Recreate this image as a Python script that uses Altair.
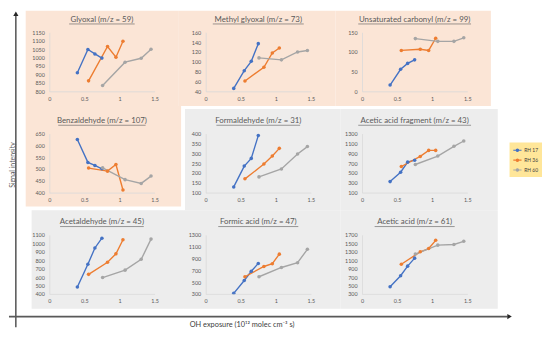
import altair as alt
import pandas as pd

# ---------------- data ----------------
RH_LABELS = ["RH 17", "RH 36", "RH 60"]
RH_COLORS = ["#4472C4", "#ED7D31", "#A5A5A5"]

# OH exposure (10^12 molec cm-3 s) for each RH series
X_RH17 = [0.40, 0.55, 0.65, 0.75]
X_RH36 = [0.56, 0.83, 0.95, 1.05]
X_RH60 = [0.76, 1.08, 1.31, 1.45]

glyoxal = [[910, 1048, 1022, 997], [862, 1066, 1002, 1097], [835, 973, 996, 1049]]
methyl_glyoxal = [[46, 82, 101, 137], [61, 89, 118, 128], [108, 104, 120, 123]]
unsat_carbonyl = [[16, 56, 71, 80], [104, 107, 104, 135], [134, 127, 127, 136]]
benzaldehyde = [[625, 528, 515, 501], [504, 491, 519, 411], [505, 455, 439, 470]]
formaldehyde = [[129, 235, 274, 390], [170, 245, 286, 325], [180, 220, 296, 334]]
acetic_fragment = [[324, 514, 720, 760], [631, 836, 959, 959], [672, 843, 1042, 1150]]
acetaldehyde = [[481, 752, 945, 1061], [632, 775, 876, 1042], [594, 682, 810, 1050]]
formic_acid = [[310, 527, 684, 817], [591, 765, 812, 974], [591, 748, 829, 1056]]
acetic_acid = [[469, 732, 959, 1149], [1004, 1299, 1376, 1571], [1246, 1457, 1473, 1548]]

TITLES = [
    "Glyoxal (m/z = 59)", "Methyl glyoxal (m/z = 73)", "Unsaturated carbonyl (m/z = 99)",
    "Benzaldehyde (m/z = 107)", "Formaldehyde (m/z = 31)", "Acetic acid fragment (m/z = 43)",
    "Acetaldehyde (m/z = 45)", "Formic acid (m/z = 47)", "Acetic acid (m/z = 61)",
]
SERIES = [glyoxal, methyl_glyoxal, unsat_carbonyl, benzaldehyde, formaldehyde,
          acetic_fragment, acetaldehyde, formic_acid, acetic_acid]
Y_TICKS = [
    [800, 850, 900, 950, 1000, 1050, 1100, 1150],
    [40, 60, 80, 100, 120, 140, 160],
    [0, 50, 100, 150],
    [400, 450, 500, 550, 600, 650],
    [100, 150, 200, 250, 300, 350, 400],
    [100, 300, 500, 700, 900, 1100, 1300],
    [400, 500, 600, 700, 800, 900, 1000, 1100],
    [300, 500, 700, 900, 1100, 1300],
    [300, 500, 700, 900, 1100, 1300, 1500, 1700],
]
X_TICKS = [0, 0.5, 1, 1.5]

rows = []
for title, ser in zip(TITLES, SERIES):
    for lab, xs, ys in zip(RH_LABELS, [X_RH17, X_RH36, X_RH60], ser):
        for xv, yv in zip(xs, ys):
            rows.append({"panel": title, "rh": lab, "x": xv, "y": yv})
df = pd.DataFrame(rows)

# ---------------- styling ----------------
W, H = 107, 60
PEACH = "#FBE5D6"
GREY = "#EDEDED"
TXT = "#595959"
FONT = "Lato"

# background tile of each panel (relative to its plot origin): x1, x2, y1, y2, colour
TILES = [
    (-24, 131, -22, 75, PEACH), (-28, 132, -22, 75, PEACH), (-27, 131, -22, 75, PEACH),
    (-24, 134, -28, 74, PEACH), (-21, 137, -25, 78, GREY), (-22, 138, -25, 78, GREY),
    (-18, 136, -25, 75, GREY), (-23, 137, -25, 75, GREY), (-22, 138, -25, 75, GREY),
]

LEG_PATH = "M-1,0H1M0.3,0A0.3,0.3,0,1,1,-0.3,0A0.3,0.3,0,1,1,0.3,0Z"
legend = alt.Legend(orient="none", legendX=468, legendY=112, title=None,
                    fillColor="#FFE699", padding=3, labelFontSize=5, labelFont=FONT,
                    labelColor="#404040", symbolType=LEG_PATH, symbolSize=70,
                    symbolStrokeWidth=1.1, rowPadding=1, labelOffset=2)
color = alt.Color("rh:N", scale=alt.Scale(domain=RH_LABELS, range=RH_COLORS), legend=legend)

one = pd.DataFrame({"k": [0]})

AXIS_STYLE = dict(labelFontSize=5.5, labelColor=TXT, labelFont=FONT, domainColor="#D9D9D9",
                  domainWidth=0.8, ticks=False, grid=False, labelPadding=5,
                  labelOverlap=False, labelFlush=False, zindex=2)


def deco_rule(x1, x2, y1, y2, col, sw):
    return alt.Chart(one).mark_rule(color=col, strokeWidth=sw).encode(
        x=alt.value(x1), x2=alt.value(x2), y=alt.value(y1), y2=alt.value(y2))


def deco_text(txt, x, y, size, col, **kw):
    return alt.Chart(one).mark_text(text=txt, fontSize=size, font=FONT, color=col, **kw).encode(
        x=alt.value(x), y=alt.value(y))


panels = []
for i, title in enumerate(TITLES):
    x1, x2, y1, y2, fill = TILES[i]
    bg = alt.Chart(one).mark_rect(color=fill).encode(
        x=alt.value(x1), x2=alt.value(x2), y=alt.value(y1), y2=alt.value(y2))
    w = len(title) * 3.7
    ttl = deco_text(title, W / 2, -13, 8, TXT, align="center", baseline="middle")
    ul = deco_rule(W / 2 - w / 2, W / 2 + w / 2, -8.5, -8.5, TXT, 0.6)
    ticks = Y_TICKS[i]
    base = alt.Chart(df[df.panel == title])
    xenc = alt.X("x:Q", title=None, scale=alt.Scale(domain=[0, 1.5], nice=False),
                 axis=alt.Axis(values=X_TICKS, format="~g", **AXIS_STYLE))
    yenc = alt.Y("y:Q", title=None,
                 scale=alt.Scale(domain=[ticks[0], ticks[-1]], nice=False, zero=False),
                 axis=alt.Axis(values=ticks, format="d", **AXIS_STYLE))
    lines = base.mark_line(strokeWidth=1.4).encode(x=xenc, y=yenc, color=color)
    pts = base.mark_point(filled=True, size=13, opacity=1).encode(x=xenc, y=yenc, color=color)
    layers = [bg, ttl, ul, lines, pts]
    if i == 0:
        layers.append(deco_rule(-34, -34, -19, 300, "#262626", 1.2))
        layers.append(alt.Chart(one).mark_point(shape="triangle-up", filled=True, size=28,
                                                color="#262626", opacity=1).encode(
            x=alt.value(-34), y=alt.value(-19)))
        layers.append(deco_text("Signal intensity", -41, 135, 7, TXT, angle=270,
                                baseline="top", align="center"))
    if i == 6:
        layers.append(deco_rule(-41, 466, 83, 83, "#595959", 1.8))
        layers.append(alt.Chart(one).mark_point(shape="triangle-right", filled=True, size=28,
                                                color="#262626", opacity=1).encode(
            x=alt.value(468), y=alt.value(83)))
        layers.append(deco_text("OH exposure (10¹² molec cm⁻³ s)", 196, 92, 7.5, "#404040",
                                baseline="middle", align="center"))
    panel = alt.layer(*layers).properties(width=W, height=H)
    panels.append(panel)

chart = alt.ConcatChart(
    concat=panels, columns=3, spacing={"row": 43, "column": 52}, bounds="flush",
    padding=0, background="white",
).configure_view(strokeWidth=0)

chart.save("out.html", embed_options={"renderer": "svg", "actions": False})
